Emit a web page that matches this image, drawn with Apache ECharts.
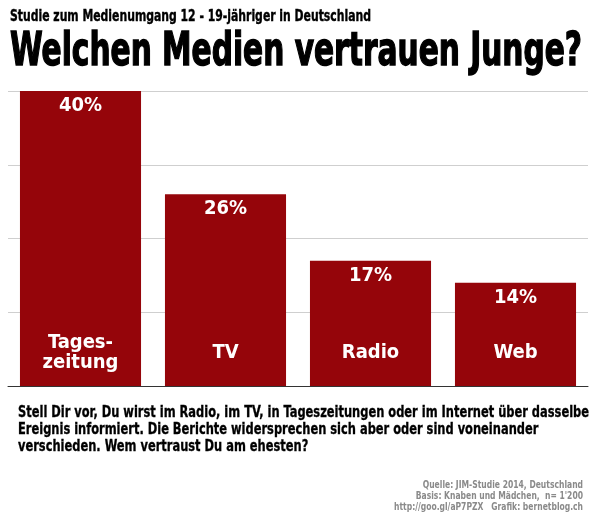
<!DOCTYPE html>
<html><head><meta charset="utf-8">
<script src="https://cdn.jsdelivr.net/npm/echarts@6/dist/echarts.min.js"></script>
<style>html,body{margin:0;padding:0;background:#fff}#c{width:610px;height:520px}</style>
</head><body><div id="c"></div>
<script>
const categories = ["Tages-\nzeitung", "TV", "Radio", "Web"];
const values = [40, 26, 17, 14];
const yTicks = [0, 10, 20, 30, 40];
const subtitleText = "Studie zum Medienumgang 12 - 19-jähriger in Deutschland";
const titleText = "Welchen Medien vertrauen Junge?";
const questionLines = [
  "Stell Dir vor, Du wirst im Radio, im TV, in Tageszeitungen oder im Internet über dasselbe",
  "Ereignis informiert. Die Berichte widersprechen sich aber oder sind voneinander",
  "verschieden. Wem vertraust Du am ehesten?"
];
const sourceLines = [
  "Quelle: JIM-Studie 2014, Deutschland",
  "Basis: Knaben und Mädchen,  n= 1'200",
  "http://goo.gl/aP7PZX   Grafik: bernetblog.ch"
];
const FONT = '"DejaVu Sans Condensed", "Liberation Sans Narrow", sans-serif';
const ctx = document.createElement('canvas').getContext('2d');
function measure(text, font) { ctx.font = font; return ctx.measureText(text).width; }

const subFont = 'bold 16px ' + FONT;
const titleFont = 'bold 46px ' + FONT;
const qFont = 'bold 15px ' + FONT;
const sFont = 'bold 11px ' + FONT;
const subScale = 361 / measure(subtitleText, subFont);
const titleScale = 572 / measure(titleText, titleFont);
const qScale = 571 / measure(questionLines[0], qFont);
const sScale = 189 / measure(sourceLines[2], sFont);

const graphics = [
  {type: 'text', x: 10, y: 17, scaleX: subScale, style: {text: subtitleText, font: subFont, fill: '#000', stroke: '#000', lineWidth: 0.4, verticalAlign: 'middle'}},
  {type: 'text', x: 10, y: 53, scaleX: titleScale, style: {text: titleText, font: titleFont, fill: '#000', stroke: '#000', lineWidth: 1.4, verticalAlign: 'middle'}}
];
questionLines.forEach((t, i) => graphics.push({type: 'text', x: 18, y: 413 + i * 17, scaleX: qScale, style: {text: t, font: qFont, fill: '#000', stroke: '#000', lineWidth: 0.3, verticalAlign: 'middle'}}));
sourceLines.forEach((t, i) => graphics.push({type: 'text', x: 583, y: 485 + i * 11, scaleX: sScale, style: {text: t, font: sFont, fill: '#8a8a8a', align: 'right', verticalAlign: 'middle'}}));

const chart = echarts.init(document.getElementById('c'), null, {renderer: 'canvas'});
chart.setOption({
  backgroundColor: '#fff',
  animation: false,
  grid: {left: 8, right: 22, top: 91, bottom: 134, containLabel: false},
  xAxis: {
    type: 'category', data: categories, z: 10,
    axisLine: {show: true, lineStyle: {color: '#333', width: 1}},
    axisTick: {show: false},
    axisLabel: {inside: true, margin: 33, verticalAlign: 'middle', color: '#fff', fontFamily: FONT, fontWeight: 'bold', fontSize: 20, lineHeight: 20}
  },
  yAxis: {
    type: 'value', min: yTicks[0], max: yTicks[yTicks.length - 1], interval: 10,
    axisLine: {show: false}, axisTick: {show: false}, axisLabel: {show: false},
    splitLine: {lineStyle: {color: '#cfcfcf', width: 1}}
  },
  series: [{
    type: 'bar', data: values, barWidth: '83.5%',
    itemStyle: {color: '#95050a'},
    label: {show: true, position: 'insideTop', distance: 5, formatter: '{c}%', color: '#fff', fontFamily: FONT, fontWeight: 'bold', fontSize: 20}
  }],
  graphic: graphics
});
</script></body></html>
